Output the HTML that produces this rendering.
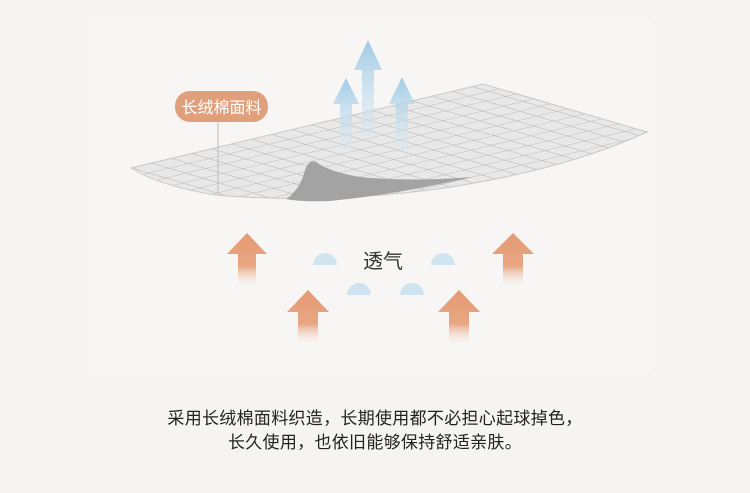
<!DOCTYPE html>
<html><head><meta charset="utf-8"><style>
html,body{margin:0;padding:0;background:#f5f4f2;}
body{width:750px;height:493px;position:relative;overflow:hidden;font-family:"Liberation Sans","Noto Sans CJK SC",sans-serif;}
.t{position:absolute;left:0;width:750px;text-align:center;color:#222;font-size:17px;letter-spacing:0.3px;}
</style></head><body>
<svg width="750" height="493" style="position:absolute;left:0;top:0">
<defs>
<pattern id="g" patternUnits="userSpaceOnUse" width="20" height="20" patternTransform="matrix(1.0,-0.24,0.85,0.25,131,168)">
<rect width="20" height="20" fill="#e8e8e8"/>
<path d="M0 0H20M0 0V20" stroke="#b0b0b0" stroke-width="1.8" fill="none"/>
</pattern>
<clipPath id="c"><path d="M131,168 L483,84 L647,132 Q560,172 430,190 Q320,204 215,195 Q160,186 131,168Z"/></clipPath>
<linearGradient id="bl" x1="0" y1="0" x2="0" y2="1"><stop offset="0" stop-color="#9fcbe6"/><stop offset="1" stop-color="#d5e8f3" stop-opacity="0.3"/></linearGradient>
<linearGradient id="or" x1="0" y1="0" x2="0" y2="1"><stop offset="0" stop-color="#e39a72"/><stop offset="0.6" stop-color="#e8a682"/><stop offset="1" stop-color="#f5f4f2" stop-opacity="0"/></linearGradient>
</defs>
<rect x="87" y="20" width="565" height="352" fill="#f7f6f4"/>
<path d="M131,168 L483,84 L647,132 Q560,172 430,190 Q320,204 215,195 Q160,186 131,168Z" fill="#e8e8e8"/>
<rect x="100" y="60" width="560" height="160" fill="url(#g)" clip-path="url(#c)"/>
<path d="M131,168 L483,84 L647,132 Q560,172 430,190 Q320,204 215,195 Q160,186 131,168Z" fill="none" stroke="#c8c8c8" stroke-width="1"/>
<path d="M286,199 Q300,190 305,170 Q309,159 316,162 Q330,172 360,177 Q410,182 472,177 Q400,194 330,201 Q300,202 286,199Z" fill="#a3a3a3"/>
<path d="M368,40 L382,70 L374,70 L374,140 L362,140 L362,70 L354,70Z" fill="url(#bl)"/>
<path d="M346,78 L359,104 L352,104 L352,150 L340,150 L340,104 L333,104Z" fill="url(#bl)"/>
<path d="M402,77 L415,104 L408,104 L408,150 L396,150 L396,104 L389,104Z" fill="url(#bl)"/>
<line x1="218" y1="121" x2="218" y2="194" stroke="#bbb" stroke-width="1"/>
<rect x="175" y="91" width="93" height="31" rx="15" fill="#e0a07c"/>
<text x="221.5" y="113" font-size="16" fill="#fff" text-anchor="middle" font-family="Liberation Sans,Noto Sans CJK SC,sans-serif">长绒棉面料</text>
<path d="M247,233 L267,254 L256,254 L256,288 L238,288 L238,254 L227,254Z" fill="url(#or)"/>
<path d="M308,290 L329,312 L318,312 L318,346 L298,346 L298,312 L287,312Z" fill="url(#or)"/>
<path d="M459,290 L480,312 L469,312 L469,346 L449,346 L449,312 L438,312Z" fill="url(#or)"/>
<path d="M513,233 L534,254 L523,254 L523,288 L503,288 L503,254 L492,254Z" fill="url(#or)"/>
<g fill="#cfe4ee">
<path d="M313,265 A12,12 0 0 1 337,265Z"/>
<path d="M431,265 A12,12 0 0 1 455,265Z"/>
<path d="M347,295 A12,12 0 0 1 371,295Z"/>
<path d="M400,295 A12,12 0 0 1 424,295Z"/>
</g>
<text x="383" y="268" font-size="20" fill="#333" text-anchor="middle" font-family="Liberation Sans,Noto Sans CJK SC,sans-serif">透气</text>
</svg>
<div class="t" style="top:404px;">采用长绒棉面料织造，长期使用都不必担心起球掉色，</div>
<div class="t" style="top:428px;">长久使用，也依旧能够保持舒适亲肤。</div>
</body></html>
